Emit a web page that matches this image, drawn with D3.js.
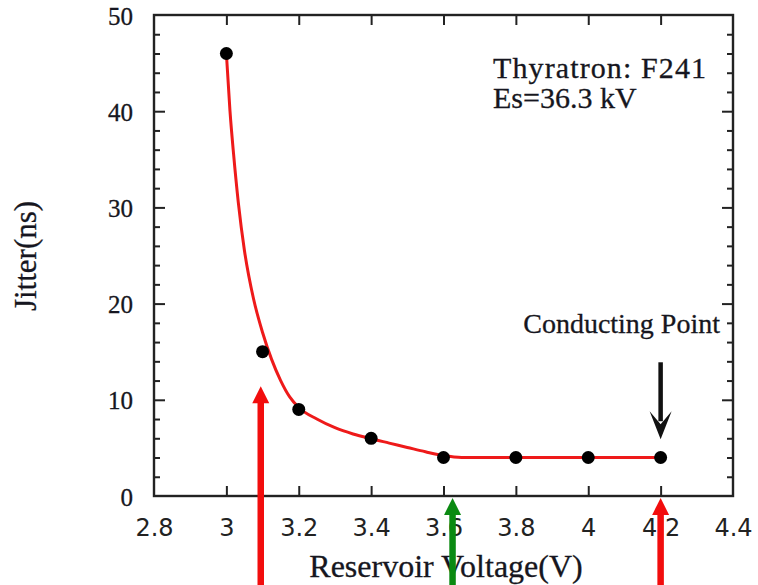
<!DOCTYPE html>
<html><head><meta charset="utf-8">
<script src="https://cdn.jsdelivr.net/npm/d3@7"></script>
<style>
html,body{margin:0;padding:0;background:#fff;}
svg{display:block;}
</style></head>
<body>
<svg id="chart" width="758" height="585"></svg>
<script>
// ---- data ----
const voltage = [3.0, 3.1, 3.2, 3.4, 3.6, 3.8, 4.0, 4.2];
const jitter  = [46, 15, 9, 6, 4, 4, 4, 4];
const fitVoltage = [3.000, 3.010, 3.020, 3.033, 3.050, 3.075, 3.100, 3.125, 3.150, 3.175, 3.200, 3.250, 3.300, 3.350, 3.400, 3.450, 3.500, 3.550, 3.600, 3.650, 3.800, 4.000, 4.200];
const fitJitter  = [46, 40, 35.5, 30.5, 25.5, 20.5, 17.0, 14.2, 12.0, 10.3, 9.2, 8.0, 7.1, 6.45, 5.95, 5.5, 5.05, 4.6, 4.2, 4.0, 4, 4, 4];
const xTickValues = [2.8, 3.0, 3.2, 3.4, 3.6, 3.8, 4.0, 4.2, 4.4];
const xTickLabels = ["2.8", "3", "3.2", "3.4", "3.6", "3.8", "4", "4.2", "4.4"];
const yTickValues = [0, 10, 20, 30, 40, 50];
const yTickLabels = ["0", "10", "20", "30", "40", "50"];
const annotationLines = ["Thyratron: F241", "Es=36.3 kV"];
const conductingLabel = "Conducting Point";
const xTitle = "Reservoir Voltage(V)";
const yTitle = "Jitter(ns)";
// overlay arrows (x in volts, tip in ns)
const arrowX     = [3.095, 3.625, 4.2];
const arrowTip   = [11.4, -0.2, -0.2];
const arrowColor = ["#f20d0d", "#0b8a12", "#f20d0d"];
const blackArrow = {x: 4.2, from: 13.9, to: 5.9};

// ---- layout ----
const svg = d3.select("#chart");
const L = 154, R = 733, T = 15, B = 496;
const x = d3.scaleLinear().domain([2.8, 4.4]).range([L, R]);
const y = d3.scaleLinear().domain([0, 50]).range([B, T]);
const serif = "'Liberation Serif','Times New Roman',serif";
const axisColor = "#222";
const txt = "#161620";

// minor y ticks
const yMinor = d3.range(0, 51, 2).filter(v => v % 10 !== 0);

function styleAxis(g) {
  g.select(".domain").remove();
  g.selectAll(".tick line").attr("stroke", axisColor).attr("stroke-width", 2);
}

// bottom axis
const gx = svg.append("g").attr("transform", `translate(0,${B})`)
  .call(d3.axisBottom(x).tickValues(xTickValues).tickSizeInner(-10).tickSizeOuter(0)
        .tickFormat((d, i) => xTickLabels[i]));
styleAxis(gx);
gx.selectAll(".tick text").attr("y", 40).attr("dy", null)
  .attr("font-family", "'DejaVu Sans',Verdana,sans-serif").attr("font-size", 24).attr("fill", "#222");
gx.selectAll(".tick").filter(d => d === 2.8 || d === 4.4).select("line").remove();

// top axis
const gxt = svg.append("g").attr("transform", `translate(0,${T})`)
  .call(d3.axisTop(x).tickValues(xTickValues.slice(1, -1)).tickSizeInner(-10).tickSizeOuter(0).tickFormat(""));
styleAxis(gxt);

// left axis major
const gy = svg.append("g").attr("transform", `translate(${L},0)`)
  .call(d3.axisLeft(y).tickValues(yTickValues).tickSizeInner(-11).tickSizeOuter(0)
        .tickFormat((d, i) => yTickLabels[i]));
styleAxis(gy);
gy.selectAll(".tick text").attr("x", -21).attr("dy", "0.36em")
  .attr("font-family", serif).attr("font-size", 25).attr("fill", txt)
  .attr("stroke", txt).attr("stroke-width", 0.3);
gy.selectAll(".tick").filter(d => d === 0 || d === 50).select("line").remove();
// left axis minor
const gym = svg.append("g").attr("transform", `translate(${L},0)`)
  .call(d3.axisLeft(y).tickValues(yMinor).tickSizeInner(-6).tickSizeOuter(0).tickFormat(""));
styleAxis(gym);
// right axis major + minor
const gyr = svg.append("g").attr("transform", `translate(${R},0)`)
  .call(d3.axisRight(y).tickValues(yTickValues.slice(1, -1)).tickSizeInner(-11).tickSizeOuter(0).tickFormat(""));
styleAxis(gyr);
const gyrm = svg.append("g").attr("transform", `translate(${R},0)`)
  .call(d3.axisRight(y).tickValues(yMinor).tickSizeInner(-6).tickSizeOuter(0).tickFormat(""));
styleAxis(gyrm);

// frame
svg.append("rect").attr("x", L).attr("y", T).attr("width", R - L).attr("height", B - T)
  .attr("fill", "none").attr("stroke", axisColor).attr("stroke-width", 2.4);

// fit curve
const fit = fitVoltage.map((v, i) => [v, fitJitter[i]]);
svg.append("path").datum(fit)
  .attr("d", d3.line().x(d => x(d[0])).y(d => y(d[1])).curve(d3.curveMonotoneX))
  .attr("fill", "none").attr("stroke", "#ee1a1a").attr("stroke-width", 3);

// points
svg.append("g").selectAll("circle").data(voltage.map((v, i) => [v, jitter[i]])).join("circle")
  .attr("cx", d => x(d[0])).attr("cy", d => y(d[1])).attr("r", 6.5).attr("fill", "#000");

// annotation text
svg.append("g").selectAll("text").data(annotationLines).join("text")
  .attr("x", 493).attr("y", (d, i) => 78 + i * 30)
  .attr("font-family", serif).attr("font-size", 30).attr("fill", txt)
  .attr("stroke", txt).attr("stroke-width", 0.3)
  .attr("textLength", (d, i) => i === 0 ? 213 : null)
  .text(d => d);

svg.append("text").attr("x", 720).attr("y", 333).attr("text-anchor", "end")
  .attr("font-family", serif).attr("font-size", 28).attr("fill", txt)
  .attr("stroke", txt).attr("stroke-width", 0.3).text(conductingLabel);

// black arrow
{
  const ax = x(blackArrow.x), y0 = y(blackArrow.from), y1 = y(blackArrow.to);
  svg.append("line").attr("x1", ax).attr("x2", ax).attr("y1", y0).attr("y2", y1 - 18)
    .attr("stroke", "#111").attr("stroke-width", 4.5);
  svg.append("path")
    .attr("d", `M${ax},${y1} L${ax - 11},${y1 - 28} L${ax},${y1 - 15} L${ax + 11},${y1 - 28} Z`)
    .attr("fill", "#111");
}

// axis titles
svg.append("text").attr("x", 446).attr("y", 577).attr("text-anchor", "middle")
  .attr("font-family", serif).attr("font-size", 32).attr("fill", txt)
  .attr("stroke", txt).attr("stroke-width", 0.3).text(xTitle);
svg.append("text").attr("transform", "translate(36,256) rotate(-90)").attr("text-anchor", "middle")
  .attr("font-family", serif).attr("font-size", 31).attr("fill", txt)
  .attr("stroke", txt).attr("stroke-width", 0.3).text(yTitle);

// overlay coloured arrows
arrowX.forEach((v, i) => {
  const ax = x(v), tip = y(arrowTip[i]);
  svg.append("line").attr("x1", ax).attr("x2", ax).attr("y1", 585).attr("y2", tip + 14)
    .attr("stroke", arrowColor[i]).attr("stroke-width", 6.5);
  svg.append("path")
    .attr("d", `M${ax},${tip} L${ax - 8.5},${tip + 17} L${ax + 8.5},${tip + 17} Z`)
    .attr("fill", arrowColor[i]);
});
</script>
</body></html>
